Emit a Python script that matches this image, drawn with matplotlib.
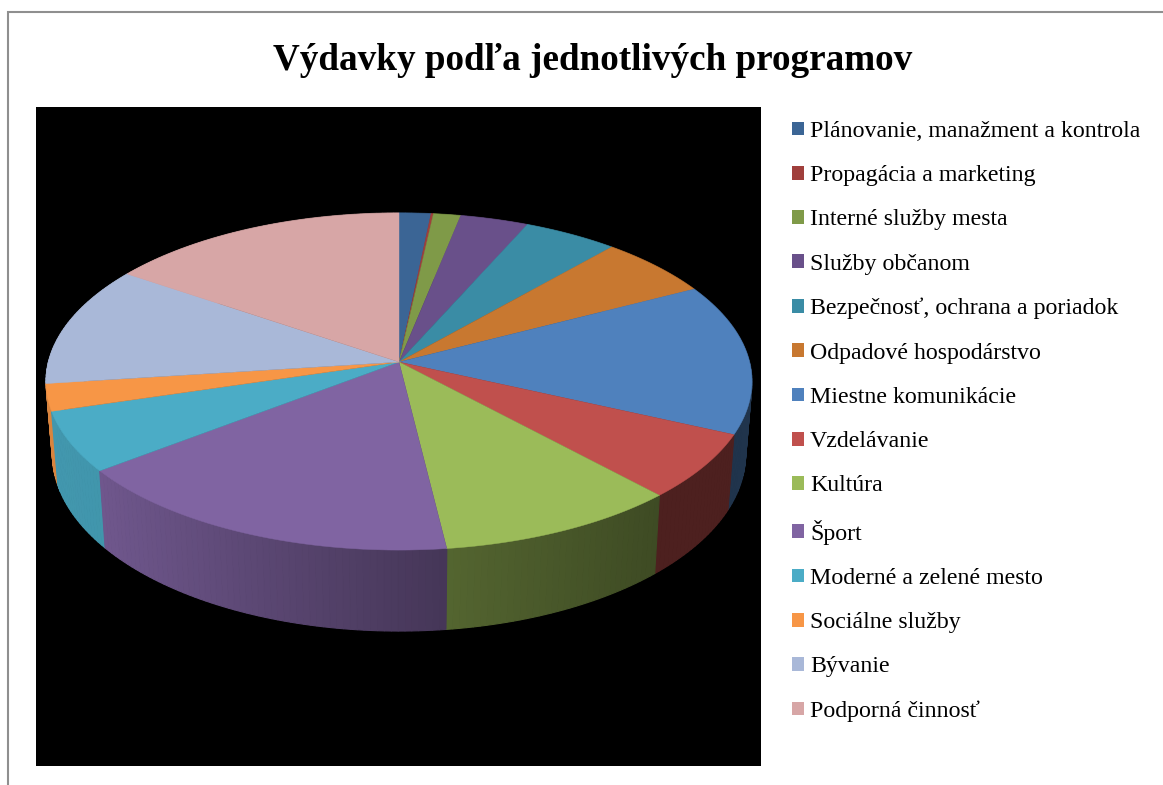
#%% import libraries
import numpy as np
import matplotlib
matplotlib.use('Agg')
import matplotlib.pyplot as plt
from matplotlib.patches import Patch, Rectangle

plt.rcParams['font.family'] = ['Liberation Serif', 'DejaVu Serif']

title = 'Výdavky podľa jednotlivých programov'
programs = ['Plánovanie, manažment a kontrola', 'Propagácia a marketing', 'Interné služby mesta',
            'Služby občanom', 'Bezpečnosť, ochrana a poriadok', 'Odpadové hospodárstvo',
            'Miestne komunikácie', 'Vzdelávanie', 'Kultúra', 'Šport', 'Moderné a zelené mesto',
            'Sociálne služby', 'Bývanie', 'Podporná činnosť']
shares = [1.63, 0.12, 1.4, 3.5, 4.84, 5.91, 14.5, 6.3, 9.99, 16.55, 5.8, 2.6, 11.6, 15.5]
colors = ['#3B6595', '#A03F3C', '#7F9A48', '#69508A', '#3A8CA5', '#C87830', '#4F81BD', '#C0504D',
          '#9BBB59', '#8064A2', '#4BACC6', '#F79646', '#A9B8D8', '#D7A6A6']

# pie geometry in pixels, tilted with a little perspective
cx, cy = 399, 362
a, b, k = 350.6, 166.3, 0.1158
depth = 71.6
shrink = 0.982  # bottom rim sits a bit inside the top rim


def project(theta):
    x = np.sin(theta)
    y = np.cos(theta)
    w = 1 + k * y
    return cx + a * x / w, cy - b * y / w, depth / w


def side_shade(px):
    return np.interp(px - cx, [-353, -300, -150, 48, 260, 353], [0.88, 0.87, 0.72, 0.54, 0.40, 0.40])


fig = plt.figure(figsize=(11.63, 7.85), dpi=100, facecolor='white')
ax = fig.add_axes([0, 0, 1, 1])
ax.set_xlim(0, 1163)
ax.set_ylim(785, 0)
ax.axis('off')

ax.plot([8, 8, 1163], [785, 12, 12], color='#8f8f8f', lw=1.5, solid_joinstyle='miter')
ax.add_patch(Rectangle((36, 107), 725, 659, facecolor='black', edgecolor='none'))
ax.text(593, 60.5, title, fontsize=26.7, fontweight='bold', ha='center', va='center', color='black')

edges = np.radians(np.concatenate([[0], np.cumsum(shares)]) / np.sum(shares) * 360)

# side wall, far strips first so the near ones cover them
strips = []
for i, color in enumerate(colors):
    n = max(int((edges[i + 1] - edges[i]) / np.radians(1.0)), 1)
    t = np.linspace(edges[i], edges[i + 1], n + 1)
    for t0, t1 in zip(t[:-1], t[1:]):
        strips.append((np.cos((t0 + t1) / 2), t0, t1, color))
strips.sort(key=lambda s: -s[0])
for _, t0, t1, color in strips:
    x0, y0, d0 = project(t0)
    x1, y1, d1 = project(t1)
    rgb = np.array(matplotlib.colors.to_rgb(color)) * side_shade((x0 + x1) / 2)
    bx0 = cx + (x0 - cx) * shrink
    bx1 = cx + (x1 - cx) * shrink
    ax.fill([x0, x1, bx1, bx0], [y0, y1, y1 + d1, y0 + d0], facecolor=rgb, edgecolor=rgb, lw=0.8)

# top face
for i, color in enumerate(colors):
    t = np.linspace(edges[i], edges[i + 1], 120)
    px, py, _ = project(t)
    ax.fill(np.r_[cx, px], np.r_[cy, py], facecolor=color, edgecolor=color, lw=0.3)

handles = [Patch(facecolor=c, edgecolor='none') for c in colors]
ax.legend(handles, programs, loc='upper left', bbox_to_anchor=(792 / 1163, 1 - 121 / 785),
          bbox_transform=fig.transFigure, frameon=False, fontsize=17.2, borderpad=0, borderaxespad=0,
          handlelength=0.5, handleheight=0.5, handletextpad=0.26, labelspacing=0.973)

fig.savefig('out.png', dpi=100)
